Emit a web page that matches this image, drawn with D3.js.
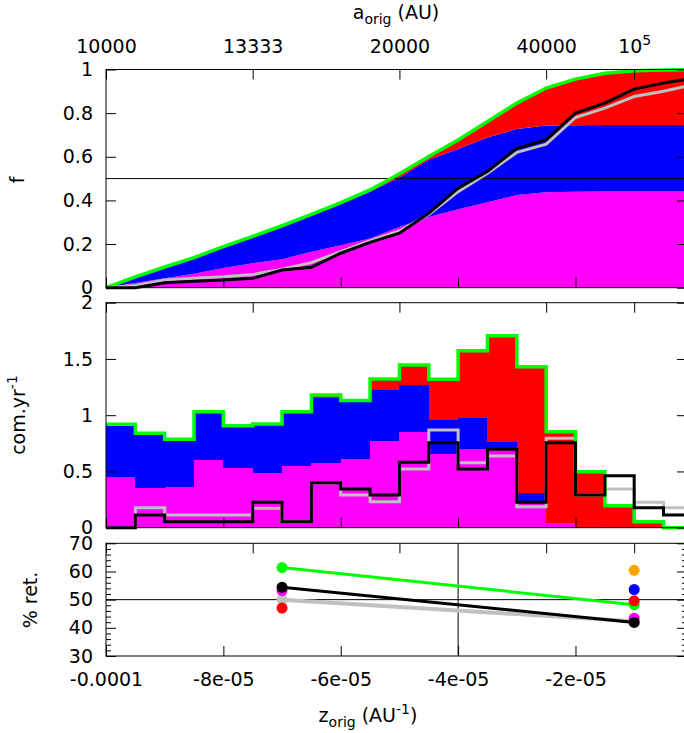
<!DOCTYPE html>
<html><head><meta charset="utf-8">
<script src="https://cdn.jsdelivr.net/npm/d3@7"></script>
<style>
html,body{margin:0;padding:0;background:#fff;}
svg{display:block;}
text{font-family:"DejaVu Sans",sans-serif;fill:#000;}
</style>
</head><body>
<script>
// ---------- data ----------
const zGrid = [-1e-4,-9.5e-5,-9e-5,-8.5e-5,-8e-5,-7.5e-5,-7e-5,-6.5e-5,-6e-5,-5.5e-5,-5e-5,-4.5e-5,-4e-5,-3.5e-5,-3e-5,-2.5e-5,-2e-5,-1.5e-5,-1e-5,-5e-6,0];
// cumulative fractions (top panel)
const cumMagenta = [0,0.022,0.043,0.064,0.09,0.112,0.13,0.165,0.195,0.225,0.278,0.324,0.36,0.392,0.425,0.437,0.44,0.441,0.441,0.441,0.441];
const cumBlue    = [0,0.048,0.092,0.133,0.185,0.23,0.28,0.33,0.382,0.44,0.505,0.586,0.636,0.688,0.727,0.743,0.745,0.746,0.746,0.746,0.746];
const cumTotal   = [0,0.05,0.095,0.138,0.188,0.235,0.284,0.336,0.39,0.448,0.522,0.601,0.677,0.762,0.846,0.915,0.956,0.983,0.994,0.998,1.0];
const cumBlack   = [0,0,0.023,0.029,0.035,0.043,0.081,0.094,0.158,0.208,0.25,0.341,0.456,0.532,0.639,0.677,0.80,0.846,0.91,0.938,0.96];
const cumGray    = [0,0.01,0.035,0.043,0.05,0.06,0.085,0.115,0.165,0.215,0.26,0.335,0.44,0.525,0.62,0.658,0.78,0.823,0.876,0.9,0.93];

// histogram (middle panel), bins of width 5e-6
const binLeft = [-1e-4,-9.5e-5,-9e-5,-8.5e-5,-8e-5,-7.5e-5,-7e-5,-6.5e-5,-6e-5,-5.5e-5,-5e-5,-4.5e-5,-4e-5,-3.5e-5,-3e-5,-2.5e-5,-2e-5,-1.5e-5,-1e-5,-5e-6];
const binWidth = 5e-6;
const histMagenta = [0.453,0.356,0.364,0.602,0.533,0.489,0.548,0.572,0.611,0.771,0.848,0.652,0.697,0.69,0.24,0.04,0.01,0,0,0];
const histBlue    = [0.466,0.483,0.422,0.429,0.374,0.433,0.483,0.578,0.519,0.453,0.42,0.305,0.281,0.074,0.066,0,0,0,0,0];
const histRed     = [0,0,0,0,0,0,0,0.03,0,0.098,0.178,0.362,0.595,0.943,1.125,0.813,0.488,0.196,0.053,0];
const histBlack   = [0,0.113,0.053,0.053,0.053,0.226,0.053,0.4,0.344,0.291,0.581,0.756,0.522,0.697,0.226,0.756,0.291,0.462,0.178,0.113];
const histGray    = [0,0.178,0.113,0.113,0.113,0.172,0.053,0.4,0.291,0.231,0.522,0.868,0.578,0.637,0.187,0.795,0.291,0.344,0.226,0.178];

// retention (bottom panel)
const retZ = [-7e-5, -1e-5];
const retGreen   = [61.4, 48.2];
const retGray    = [50.0, 42.3];
const retBlack   = [54.4, 41.9];
const retMagenta = [53.2, 43.4];
const retRed     = [47.0, 49.6];
const retBlue    = [null, 53.6];
const retOrange  = [null, 60.4];

// axis ticks
const zTicks = [-1e-4,-8e-5,-6e-5,-4e-5,-2e-5];
const zTickLabels = ["-0.0001","-8e-05","-6e-05","-4e-05","-2e-05"];
const aTicks = [10000,13333,20000,40000,100000];
const aTickLabels = ["10000","13333","20000","40000","10^5"];
const fTicks = [0,0.2,0.4,0.6,0.8,1];
const fTickLabels = ["0","0.2","0.4","0.6","0.8","1"];
const rateTicks = [0,0.5,1,1.5,2];
const rateTickLabels = ["0","0.5","1","1.5","2"];
const retTicks = [30,40,50,60,70];
const retMinorTicks = [32,34,36,38,42,44,46,48,52,54,56,58,62,64,66,68];

// ---------- layout ----------
const W = 684, H = 733;
const svg = d3.select("body").append("svg").attr("width", W).attr("height", H);
const x = d3.scaleLinear().domain([-1e-4, -1e-6]).range([106, 687]);
const yTop = d3.scaleLinear().domain([0,1]).range([287.7, 69.5]);
const yMid = d3.scaleLinear().domain([0,2]).range([527.7, 302.7]);
const yBot = d3.scaleLinear().domain([30,70]).range([656, 543.3]);
const FS = 19;

const C = {magenta:"#ff00ff", blue:"#0000ff", red:"#ff0000", green:"#00ff00", gray:"#c0c0c0", black:"#000000", orange:"#ffa500"};

function styleAxis(g){
  g.select(".domain").remove();
  g.selectAll(".tick line").attr("stroke","#000").attr("stroke-width",1);
  g.selectAll(".tick text").attr("font-size",FS).attr("font-family","DejaVu Sans");
}

function frameAndAxes(y, yTicks, yLabels, showTopLabels, showBottomLabels, minor){
  const [y0, y1] = y.range(); // y0 bottom, y1 top
  // left axis
  const gl = svg.append("g").attr("transform",`translate(${x.range()[0]},0)`)
    .call(d3.axisLeft(y).tickValues(yTicks).tickFormat((d,i)=>yLabels[i]).tickSize(-10).tickPadding(13));
  styleAxis(gl);
  const gr = svg.append("g").attr("transform",`translate(${x.range()[1]},0)`)
    .call(d3.axisRight(y).tickValues(yTicks).tickFormat("").tickSize(-10));
  styleAxis(gr);
  if (minor){
    styleAxis(svg.append("g").attr("transform",`translate(${x.range()[0]},0)`)
      .call(d3.axisLeft(y).tickValues(minor).tickFormat("").tickSize(-5)));
    styleAxis(svg.append("g").attr("transform",`translate(${x.range()[1]},0)`)
      .call(d3.axisRight(y).tickValues(minor).tickFormat("").tickSize(-5)));
  }
  // bottom axis (z)
  const gb = svg.append("g").attr("transform",`translate(0,${y0})`)
    .call(d3.axisBottom(x).tickValues(zTicks).tickFormat((d,i)=> showBottomLabels ? zTickLabels[i] : "").tickSize(-10).tickPadding(17));
  styleAxis(gb);
  // top axis (a = -1/z)
  const gt = svg.append("g").attr("transform",`translate(0,${y1})`)
    .call(d3.axisTop(x).tickValues(aTicks.map(a=>-1/a)).tickFormat("").tickSize(-10));
  styleAxis(gt);
  if (showTopLabels){
    gt.selectAll(".tick text").each(function(d,i){
      const t = d3.select(this).attr("y",-17).attr("font-size",FS);
      const lab = aTickLabels[i];
      if (lab.includes("^")){
        const [b,e] = lab.split("^");
        t.text(null);
        t.append("tspan").text(b);
        t.append("tspan").attr("dy",-8).attr("font-size",14).text(e);
      } else t.text(lab);
    });
  }
  // frame
  svg.append("rect").attr("x",x.range()[0]).attr("y",y1)
    .attr("width",x.range()[1]-x.range()[0]).attr("height",y0-y1)
    .attr("fill","none").attr("stroke","#000").attr("stroke-width",1);
}

// ---------- top panel ----------
const gTop = svg.append("g");
const idx = d3.range(zGrid.length);
const areaTop = (lo, hi) => d3.area().x(i=>x(zGrid[i])).y0(i=>yTop(lo[i])).y1(i=>yTop(hi[i]));
const zeros = zGrid.map(()=>0);
gTop.append("path").attr("d", areaTop(zeros, cumMagenta)(idx)).attr("fill",C.magenta);
gTop.append("path").attr("d", areaTop(cumMagenta, cumBlue)(idx)).attr("fill",C.blue);
gTop.append("path").attr("d", areaTop(cumBlue, cumTotal)(idx)).attr("fill",C.red);
gTop.append("line").attr("x1",x.range()[0]).attr("x2",x.range()[1]).attr("y1",yTop(0.5)).attr("y2",yTop(0.5)).attr("stroke","#000").attr("stroke-width",1);
const lineTop = arr => d3.line().x(i=>x(zGrid[i])).y(i=>yTop(arr[i]));
gTop.append("path").attr("d", lineTop(cumTotal)(idx)).attr("fill","none").attr("stroke",C.green).attr("stroke-width",3.5);
gTop.append("path").attr("d", lineTop(cumGray)(idx)).attr("fill","none").attr("stroke",C.gray).attr("stroke-width",3);
gTop.append("path").attr("d", lineTop(cumBlack)(idx)).attr("fill","none").attr("stroke",C.black).attr("stroke-width",3);
frameAndAxes(yTop, fTicks, fTickLabels, true, false, null);

// ---------- middle panel ----------
const gMid = svg.append("g");
const stackData = binLeft.map((b,i)=>({b, m:histMagenta[i], bl:histBlue[i], r:histRed[i]}));
const stacked = d3.stack().keys(["m","bl","r"])(stackData);
const fillCols = [C.magenta, C.blue, C.red];
stacked.forEach((layer,li)=>{
  gMid.selectAll(null).data(layer).enter().append("rect")
    .attr("x", d=>x(d.data.b)).attr("width", d=>x(d.data.b+binWidth)-x(d.data.b))
    .attr("y", d=>yMid(d[1])).attr("height", d=>Math.max(0,yMid(d[0])-yMid(d[1])))
    .attr("fill", fillCols[li]).attr("shape-rendering","crispEdges");
});
const stepPts = vals => binLeft.flatMap((b,i)=>[[b,vals[i]],[b+binWidth,vals[i]]]);
const stepLine = d3.line().x(d=>x(d[0])).y(d=>yMid(d[1]));
const totals = stacked[2].map(d=>d[1]);
gMid.append("path").attr("d", stepLine(stepPts(histGray))).attr("fill","none").attr("stroke",C.gray).attr("stroke-width",3);
gMid.append("path").attr("d", stepLine(stepPts(totals))).attr("fill","none").attr("stroke",C.green).attr("stroke-width",3.5);
gMid.append("path").attr("d", stepLine(stepPts(histBlack))).attr("fill","none").attr("stroke",C.black).attr("stroke-width",3);
frameAndAxes(yMid, rateTicks, rateTickLabels, false, false, null);

// ---------- bottom panel ----------
const gBot = svg.append("g");
gBot.append("line").attr("x1",x.range()[0]).attr("x2",x.range()[1]).attr("y1",yBot(50)).attr("y2",yBot(50)).attr("stroke","#000");
gBot.append("line").attr("x1",x(-4e-5)).attr("x2",x(-4e-5)).attr("y1",yBot(30)).attr("y2",yBot(70)).attr("stroke","#000");
const retLine = d3.line().defined(d=>d[1]!=null).x(d=>x(d[0])).y(d=>yBot(d[1]));
function series(vals, col, withLine, lw){
  const pts = retZ.map((z,i)=>[z, vals[i]]);
  if (withLine) gBot.append("path").attr("d", retLine(pts)).attr("fill","none").attr("stroke",col).attr("stroke-width",lw);
  gBot.selectAll(null).data(pts.filter(p=>p[1]!=null)).enter().append("circle")
    .attr("cx",d=>x(d[0])).attr("cy",d=>yBot(d[1])).attr("r",5.5).attr("fill",col);
}
series(retGray, C.gray, true, 4);
series(retGreen, C.green, true, 3);
series(retOrange, C.orange, false);
series(retBlue, C.blue, false);
series(retRed, C.red, false);
series(retMagenta, C.magenta, false);
series(retBlack, C.black, true, 3);
frameAndAxes(yBot, retTicks, retTicks.map(String), false, true, retMinorTicks);

// ---------- titles ----------
const tTop = svg.append("text").attr("x",396).attr("y",19).attr("text-anchor","middle").attr("font-size",FS);
tTop.append("tspan").text("a");
tTop.append("tspan").attr("font-size",14).attr("dy",5).text("orig");
tTop.append("tspan").attr("dy",-5).text(" (AU)");

const tBot = svg.append("text").attr("x",368).attr("y",722).attr("text-anchor","middle").attr("font-size",FS);
tBot.append("tspan").text("z");
tBot.append("tspan").attr("font-size",14).attr("dy",5).text("orig");
tBot.append("tspan").attr("dy",-5).text(" (AU");
tBot.append("tspan").attr("font-size",14).attr("dy",-8).text("-1");
tBot.append("tspan").attr("dy",8).text(")");

svg.append("text").attr("transform","translate(24,180) rotate(-90)").attr("text-anchor","middle").attr("font-size",FS).text("f");
const tMid = svg.append("text").attr("transform","translate(25,415) rotate(-90)").attr("text-anchor","middle").attr("font-size",FS);
tMid.append("tspan").text("com.yr");
tMid.append("tspan").attr("font-size",14).attr("dy",-8).text("-1");
svg.append("text").attr("transform","translate(37,600) rotate(-90)").attr("text-anchor","middle").attr("font-size",FS).text("% ret.");
</script>
</body></html>
